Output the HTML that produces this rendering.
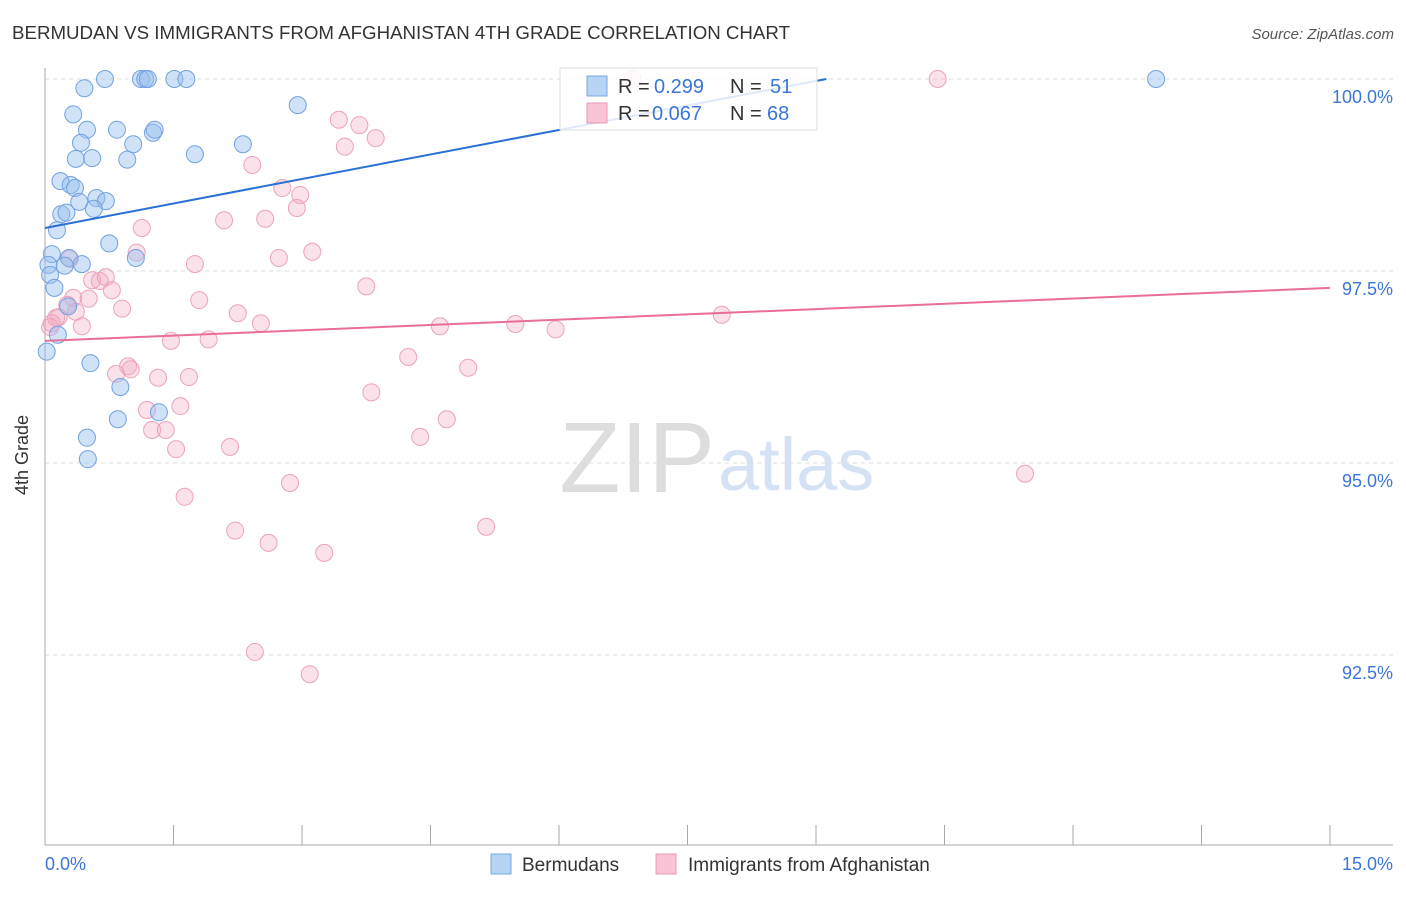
<!DOCTYPE html>
<html><head><meta charset="utf-8"><style>
body{margin:0;background:#fff;font-family:"Liberation Sans",sans-serif;}
svg text{font-family:"Liberation Sans",sans-serif;}
</style></head><body>
<svg id="chart" width="1406" height="892" xmlns="http://www.w3.org/2000/svg">
<text x="12" y="39" font-size="18" fill="#333" textLength="778" lengthAdjust="spacingAndGlyphs">BERMUDAN VS IMMIGRANTS FROM AFGHANISTAN 4TH GRADE CORRELATION CHART</text>
<text x="1394" y="39" font-size="15" fill="#555" text-anchor="end" font-style="italic">Source: ZipAtlas.com</text>
<text x="28" y="455" font-size="18" fill="#333" text-anchor="middle" transform="rotate(-90 28 455)">4th Grade</text>
<text x="715" y="492" font-size="100" fill="#ddd" text-anchor="end" font-family="Liberation Serif">ZIP</text>
<text x="718" y="490" font-size="74" fill="#d4e2f4">atlas</text>
<g id="grid"></g><g id="axes"></g><g id="pts"></g><g id="trends"></g>
<g>
<rect x="560" y="68" width="257" height="62" fill="#fff" fill-opacity="0.85" stroke="#ddd"/>
<rect x="587" y="76" width="20" height="20" fill="#b8d4f4" stroke="#7aa8e0"/>
<text x="618" y="93" font-size="20" fill="#333">R =</text>
<text x="654" y="93" font-size="20" fill="#3a76d6">0.299</text>
<text x="730" y="93" font-size="20" fill="#333">N =</text>
<text x="770" y="93" font-size="20" fill="#3a76d6">51</text>
<rect x="587" y="103" width="20" height="20" fill="#f8c4d6" stroke="#e898b4"/>
<text x="618" y="120" font-size="20" fill="#333">R =</text>
<text x="652" y="120" font-size="20" fill="#3a76d6">0.067</text>
<text x="730" y="120" font-size="20" fill="#333">N =</text>
<text x="767" y="120" font-size="20" fill="#3a76d6">68</text>
</g>
<g>
<rect x="491" y="854" width="20" height="20" fill="#b8d4f4" stroke="#7aa8e0"/>
<text x="522" y="871" font-size="19" fill="#333">Bermudans</text>
<rect x="656" y="854" width="20" height="20" fill="#f8c4d6" stroke="#e898b4"/>
<text x="688" y="871" font-size="19" fill="#333">Immigrants from Afghanistan</text>
</g>
</svg>
<script>
const yTicks=[100,97.5,95,92.5];
const yTickLabels=["100.0%","97.5%","95.0%","92.5%"];
const xTicks=[0,1.5,3,4.5,6,7.5,9,10.5,12,13.5,15];
const xEndLabels=["0.0%","15.0%"];
const blueX=[0.70,1.12,1.17,1.20,1.51,1.65,12.97,0.46,2.95,0.33,0.49,0.84,1.26,1.28,0.42,1.03,2.31,0.36,0.55,0.96,1.75,0.18,0.30,0.35,0.60,0.40,0.71,0.57,0.19,0.25,0.14,0.75,0.08,0.28,0.43,0.23,1.06,0.04,0.06,0.11,0.27,0.15,0.02,0.53,0.88,1.33,0.85,0.49,0.50];
const blueY=[100,100,100,100,100,100,100,99.88,99.66,99.54,99.34,99.34,99.30,99.34,99.17,99.15,99.15,98.96,98.97,98.95,99.02,98.67,98.62,98.58,98.45,98.40,98.41,98.31,98.24,98.26,98.03,97.86,97.72,97.67,97.59,97.57,97.67,97.58,97.45,97.28,97.04,96.67,96.45,96.30,95.99,95.66,95.57,95.33,95.05];
const pinkX=[6.86,10.42,3.43,3.67,3.86,3.50,2.42,2.77,2.98,2.94,2.09,2.57,1.13,1.07,3.12,2.73,1.75,0.29,0.55,0.64,0.71,3.75,0.78,0.33,0.51,1.80,0.26,0.90,0.36,2.25,0.16,0.13,0.08,0.06,0.43,2.52,4.61,5.49,5.96,7.90,1.47,1.91,4.24,4.94,0.97,0.83,1.32,1.68,1.00,3.81,1.58,1.19,4.69,4.38,1.25,1.41,1.53,2.16,11.44,2.86,1.63,5.15,2.22,2.61,3.26,2.45,3.09];
const pinkY=[100,100,99.47,99.40,99.23,99.12,98.88,98.58,98.49,98.32,98.16,98.18,98.06,97.74,97.75,97.67,97.59,97.66,97.38,97.37,97.42,97.30,97.25,97.15,97.14,97.12,97.06,97.01,96.97,96.95,96.90,96.89,96.82,96.77,96.78,96.82,96.78,96.81,96.74,96.93,96.59,96.61,96.38,96.24,96.26,96.16,96.11,96.12,96.22,95.92,95.74,95.69,95.57,95.34,95.43,95.43,95.18,95.21,94.86,94.74,94.56,94.17,94.12,93.96,93.83,92.54,92.25];
const blueTrend=[[0,98.06],[9.12,100]];
const pinkTrend=[[0,96.59],[15,97.28]];
const X=v=>45+v*(1285/15);
const Y=v=>79+(100-v)*(192/2.5);
const NS="http://www.w3.org/2000/svg";
function mk(tag,attrs,parent){const e=document.createElementNS(NS,tag);for(const k in attrs)e.setAttribute(k,attrs[k]);document.getElementById(parent).appendChild(e);return e;}
yTicks.forEach((t,i)=>{
 const g=mk('line',{x1:45,x2:1393,y1:Y(t),y2:Y(t),stroke:'#ddd','stroke-dasharray':'4 4'},'grid');
 
 
 const l=mk('text',{x:1393,y:Y(t)+24,'font-size':18,fill:'#3a76d6','text-anchor':'end'},'grid');
 l.textContent=yTickLabels[i];
 
 
});
const ax=mk('line',{x1:45,x2:45,y1:68,y2:845,stroke:'#aaa'},'axes');


const bx=mk('line',{x1:45,x2:1393,y1:845,y2:845,stroke:'#aaa'},'axes');


xTicks.forEach(t=>{
 const k=mk('line',{x1:X(t),x2:X(t),y1:825,y2:845,stroke:'#aaa'},'axes');
 
 
});
const l0=mk('text',{x:45,y:870,'font-size':18,fill:'#3a76d6'},'axes');l0.textContent=xEndLabels[0];


const l1=mk('text',{x:1393,y:870,'font-size':18,fill:'#3a76d6','text-anchor':'end'},'axes');l1.textContent=xEndLabels[1];


pinkX.forEach((v,i)=>{
 const c=mk('circle',{cx:X(v),cy:Y(pinkY[i]),r:8.5,fill:'rgba(244,170,196,0.35)',stroke:'#eca2bc','stroke-width':1},'pts');
 
 
});
blueX.forEach((v,i)=>{
 const c=mk('circle',{cx:X(v),cy:Y(blueY[i]),r:8.5,fill:'rgba(150,190,238,0.45)',stroke:'#72a2e0','stroke-width':1},'pts');
 
 
});
const bt=mk('line',{x1:X(blueTrend[0][0]),y1:Y(blueTrend[0][1]),x2:X(blueTrend[1][0]),y2:Y(blueTrend[1][1]),stroke:'#2a6fd6','stroke-width':2},'trends');


const pt=mk('line',{x1:X(pinkTrend[0][0]),y1:Y(pinkTrend[0][1]),x2:X(pinkTrend[1][0]),y2:Y(pinkTrend[1][1]),stroke:'#e86e98','stroke-width':2},'trends');


</script>
</body></html>
